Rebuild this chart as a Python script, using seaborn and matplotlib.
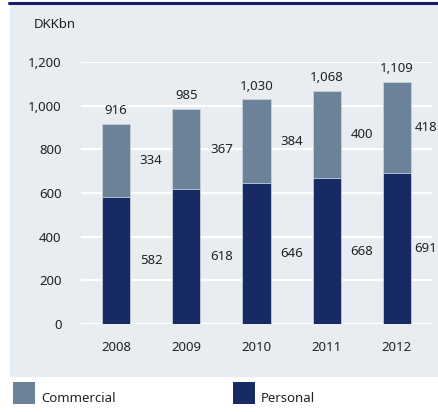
import matplotlib
matplotlib.use("Agg")
import matplotlib.pyplot as plt
from matplotlib.patches import Rectangle
from matplotlib.lines import Line2D
import seaborn as sns
import pandas as pd

# Lending by segment, DKK billions
years = ["2008", "2009", "2010", "2011", "2012"]
personal = [582, 618, 646, 668, 691]
commercial = [334, 367, 384, 400, 418]
totals = [916, 985, 1030, 1068, 1109]
yticks = [0, 200, 400, 600, 800, 1000, 1200]

colors = {"Commercial": "#6b8299", "Personal": "#172a63"}
panel_bg = "#e8edf1"
navy_rule = "#141c6e"
text_color = "#222222"

sns.set_theme(style="white")
plt.rcParams["font.family"] = ["Noto Sans", "DejaVu Sans"]

df = pd.DataFrame({"year": years, "personal": personal,
                   "commercial": commercial, "total": totals})

W, H = 438, 412
fig = plt.figure(figsize=(W / 100, H / 100), dpi=100)
fig.patch.set_facecolor("white")

# grey panel and top rule, behind the axes
fig.patches.append(Rectangle((10 / W, 1 - 377 / H), (W - 10) / W, (377 - 4) / H,
                             transform=fig.transFigure, facecolor=panel_bg,
                             edgecolor="none", zorder=-2))
fig.lines.append(Line2D([9 / W, 1], [1 - 3 / H, 1 - 3 / H], transform=fig.transFigure,
                        color=navy_rule, linewidth=2.2, zorder=-1))

ax = fig.add_axes([81 / W, 1 - 324 / H, (432 - 81) / W, (324 - 62) / H])
ax.set_facecolor("none")

# stacked bars: total (commercial on top) drawn first, personal over it
sns.barplot(data=df, x="year", y="total", order=years, color=colors["Commercial"],
            width=0.4, saturation=1, edgecolor="#c9d3dd", linewidth=0.6, ax=ax, zorder=3)
sns.barplot(data=df, x="year", y="personal", order=years, color=colors["Personal"],
            width=0.4, saturation=1, edgecolor="#c9d3dd", linewidth=0.6, ax=ax, zorder=4)

ax.set_xlim(-0.5, 4.5)
ax.set_ylim(0, 1200)
ax.set_yticks(yticks)
ax.set_yticklabels([f"{v:,}" for v in yticks])
ax.grid(axis="y", color="white", linewidth=1.6, zorder=1)
ax.set_axisbelow(True)
for s in ax.spines.values():
    s.set_visible(False)
ax.tick_params(axis="y", length=0, pad=14, labelsize=9.5, labelcolor=text_color)
ax.tick_params(axis="x", length=0, pad=12, labelsize=9.5, labelcolor=text_color)
ax.set_xlabel("")
ax.set_ylabel("")

# value labels: totals above the bars, segment values beside them
for i, (p, c, t) in enumerate(zip(personal, commercial, totals)):
    side_x = min(i + 0.5, len(years) - 1 + 0.41)
    ax.text(i, t + 30, f"{t:,}", ha="center", va="bottom", fontsize=9.5,
            color=text_color, clip_on=False)
    ax.text(side_x, p + c / 2, f"{c:,}", ha="center", va="center", fontsize=9.5,
            color=text_color, clip_on=False)
    ax.text(side_x, p / 2, f"{p:,}", ha="center", va="center", fontsize=9.5,
            color=text_color, clip_on=False)

fig.text(34 / W, 1 - 24 / H, "DKKbn", ha="left", va="center", fontsize=9.5,
         color=text_color)

# legend
for x0, name in [(13, "Commercial"), (233, "Personal")]:
    fig.patches.append(Rectangle((x0 / W, 1 - 404 / H), 22 / W, 22 / H,
                                 transform=fig.transFigure,
                                 facecolor=colors[name], edgecolor="none"))
    fig.text((x0 + 28) / W, 1 - 398 / H, name, ha="left", va="center",
             fontsize=9.5, color=text_color)

fig.savefig("out.png", dpi=100, facecolor="white")
